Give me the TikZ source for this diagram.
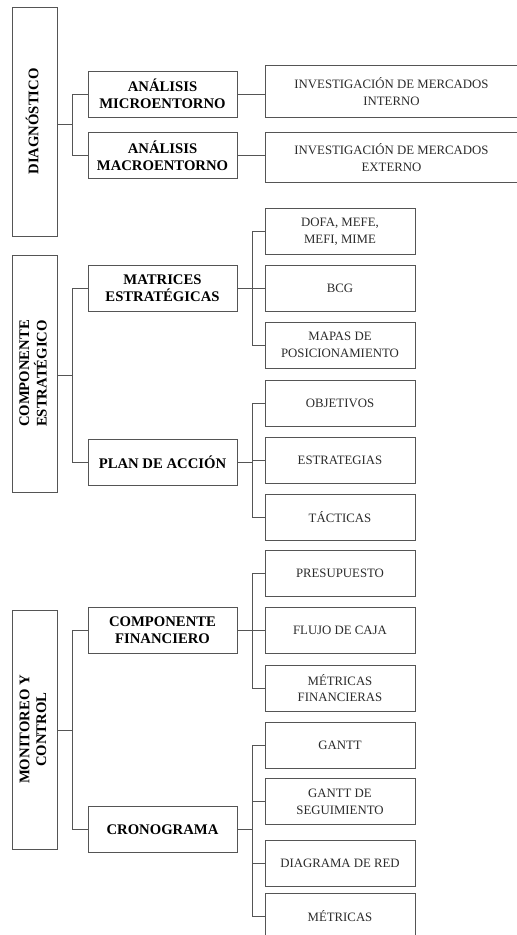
\documentclass[tikz,border=0pt]{standalone}
\usepackage{fontspec}
\setmainfont{Liberation Serif}
\usetikzlibrary{calc}
\definecolor{linegray}{HTML}{555555}
\definecolor{leaftext}{HTML}{2A2A2A}
\newcommand{\vlabel}[1]{\rotatebox{90}{\begin{tabular}{@{}c@{}}#1\end{tabular}}}
\begin{document}
\begin{tikzpicture}[x=1pt,y=-1pt,
  box/.style={draw=linegray, line width=0.9pt, inner sep=0pt, align=center},
  side/.style={box, minimum width=45pt, text=black,
    font=\bfseries\fontsize{14.7}{16.7}\selectfont},
  mid/.style={box, minimum width=149pt, minimum height=46pt, text=black,
    font=\bfseries\fontsize{14.7}{16.7}\selectfont},
  leaf/.style={box, minimum width=150pt, minimum height=46pt, text=leaftext,
    font=\fontsize{12.8}{16.7}\selectfont},
  wide/.style={leaf, draw=none, minimum width=251pt},
  link/.style={draw=linegray, line width=0.9pt}]
\useasboundingbox (0,0) rectangle (517,935);
\clip (0,0) rectangle (517,935);

% bus lines
\coordinate (busA) at (72,0);
\coordinate (busB) at (252,0);

% left column
\node[side, minimum height=229pt] (diag) at (34.5,121.5) {\vlabel{DIAGNÓSTICO}};
\node[side, minimum height=237pt] (comp) at (34.5,373.5) {\vlabel{COMPONENTE\\ESTRATÉGICO}};
\node[side, minimum height=239pt] (moni) at (34.5,729.5) {\vlabel{MONITOREO Y\\CONTROL}};

% middle column
\node[mid] (micro) at (162.5,94)    {ANÁLISIS\\MICROENTORNO};
\node[mid] (macro) at (162.5,155.5) {ANÁLISIS\\MACROENTORNO};
\node[mid] (mat)   at (162.5,288.5) {MATRICES\\ESTRATÉGICAS};
\node[mid] (plan)  at (162.5,462)   {PLAN DE ACCIÓN};
\node[mid] (fin)   at (162.5,630.5) {COMPONENTE\\FINANCIERO};
\node[mid] (crono) at (162.5,829.5) {CRONOGRAMA};

% right column (the two wide boxes run on past the right edge)
\node[wide, minimum height=51pt] (intern) at (391.5,91.5)  {INVESTIGACIÓN DE MERCADOS\\INTERNO};
\node[wide, minimum height=49pt] (extern) at (391.5,157.5) {INVESTIGACIÓN DE MERCADOS\\EXTERNO};
\draw[link] (intern.north west) rectangle ($(intern.south east)+(20,0)$);
\draw[link] (extern.north west) rectangle ($(extern.south east)+(20,0)$);
\node[leaf] (dofa)   at (340,231.5) {DOFA, MEFE,\\MEFI, MIME};
\node[leaf] (bcg)    at (340,288.5) {BCG};
\node[leaf] (mapas)  at (340,345)   {MAPAS DE\\POSICIONAMIENTO};
\node[leaf] (obj)    at (340,403)   {OBJETIVOS};
\node[leaf] (estr)   at (340,460)   {ESTRATEGIAS};
\node[leaf] (tact)   at (340,517)   {TÁCTICAS};
\node[leaf] (pres)   at (340,573.5) {PRESUPUESTO};
\node[leaf] (flujo)  at (340,630.5) {FLUJO DE CAJA};
\node[leaf] (metfin) at (340,688)   {MÉTRICAS\\FINANCIERAS};
\node[leaf] (gantt)  at (340,745)   {GANTT};
\node[leaf] (gseg)   at (340,801.5) {GANTT DE\\SEGUIMIENTO};
\node[leaf] (red)    at (340,863)   {DIAGRAMA DE RED};
\node[leaf] (metr)   at (340,916)   {MÉTRICAS};

% first level branches
\coordinate (dm) at ($(micro.west)!0.5!(macro.west)$);
\draw[link] (micro.west) -- (micro.west -| busA) -- (macro.west -| busA) -- (macro.west);
\draw[link] (diag.east |- dm) -- (dm -| busA);

\coordinate (cm) at ($(mat.west)!0.5!(plan.west)$);
\draw[link] (mat.west) -- (mat.west -| busA) -- (plan.west -| busA) -- (plan.west);
\draw[link] (comp.east |- cm) -- (cm -| busA);

\coordinate (mm) at ($(fin.west)!0.5!(crono.west)$);
\draw[link] (fin.west) -- (fin.west -| busA) -- (crono.west -| busA) -- (crono.west);
\draw[link] (moni.east |- mm) -- (mm -| busA);

% second level branches
\draw[link] (micro.east) -- (intern.west |- micro.east);
\draw[link] (macro.east) -- (extern.west |- macro.east);

\draw[link] (mat.east) -- (mat.east -| busB);
\draw[link] (dofa.west) -- (dofa.west -| busB) -- (mapas.west -| busB) -- (mapas.west);
\draw[link] (bcg.west) -- (bcg.west -| busB);

\draw[link] (plan.east) -- (plan.east -| busB);
\draw[link] (obj.west) -- (obj.west -| busB) -- (tact.west -| busB) -- (tact.west);
\draw[link] (estr.west) -- (estr.west -| busB);

\draw[link] (fin.east) -- (fin.east -| busB);
\draw[link] (pres.west) -- (pres.west -| busB) -- (metfin.west -| busB) -- (metfin.west);
\draw[link] (flujo.west) -- (flujo.west -| busB);

\draw[link] (crono.east) -- (crono.east -| busB);
\draw[link] (gantt.west) -- (gantt.west -| busB) -- (metr.west -| busB) -- (metr.west);
\draw[link] (gseg.west) -- (gseg.west -| busB);
\draw[link] (red.west) -- (red.west -| busB);
\end{tikzpicture}
\end{document}
